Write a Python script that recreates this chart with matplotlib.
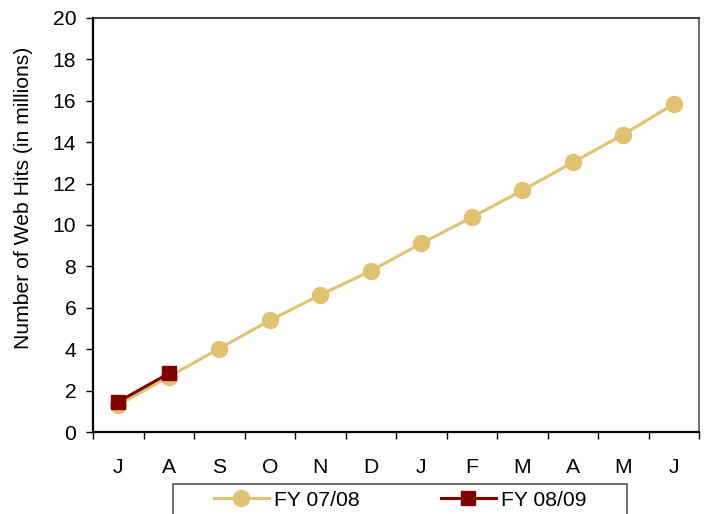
import matplotlib
matplotlib.use("Agg")
import matplotlib.pyplot as plt
from matplotlib.patches import Rectangle
from matplotlib.ticker import FixedLocator, MultipleLocator

plt.rcParams['font.family'] = ['Liberation Sans', 'DejaVu Sans']

months = ["J", "A", "S", "O", "N", "D", "J", "F", "M", "A", "M", "J"]
fy0708 = [1.31, 2.67, 4.03, 5.39, 6.62, 7.78, 9.11, 10.37, 11.67, 13.02, 14.37, 15.84]
fy0809 = [1.46, 2.83]

gold = "#E0C270"
darkred = "#800000"
fs = 15.2

fig = plt.figure(figsize=(7.07, 5.14), dpi=100)
ax = fig.add_axes([93 / 707, 82 / 514, 606 / 707, 414 / 514])

x = list(range(len(months)))
ax.plot(x, fy0708, color=gold, lw=2.2, marker="o", ms=11.5, mec=gold, label="FY 07/08")
ax.plot(x[:len(fy0809)], fy0809, color=darkred, lw=2.2, marker="s", ms=10.5, mec=darkred, label="FY 08/09")

ax.set_xlim(-0.5, len(months) - 0.5)
ax.set_ylim(0, 20)
ax.yaxis.set_major_locator(MultipleLocator(2))

# boundaries get the tick marks, centres get the labels
ax.xaxis.set_major_locator(FixedLocator([i - 0.5 for i in range(len(months) + 1)]))
ax.xaxis.set_major_formatter(plt.NullFormatter())
ax.xaxis.set_minor_locator(FixedLocator(x))
ax.set_xticklabels(months, minor=True)
ax.tick_params(axis="x", which="major", length=5, width=1, direction="out")
ax.tick_params(axis="x", which="minor", length=0, pad=19, labelsize=fs)
ax.tick_params(axis="y", length=5, width=1, direction="out", pad=7, labelsize=fs)

for s in ["left", "bottom"]:
    ax.spines[s].set_linewidth(1.6)
    ax.spines[s].set_color("black")
ax.spines["top"].set_color("#222222")
ax.spines["top"].set_linewidth(1.2)
ax.spines["right"].set_color("#555555")
ax.spines["right"].set_linewidth(1.2)

ax.set_ylabel("Number of Web Hits (in millions)", fontsize=fs)
ax.yaxis.set_label_coords(-0.099, 0.565)

# legend box runs off the bottom of the image
fig.patches.append(Rectangle((173 / 707, -0.05), 454 / 707, 30 / 514 + 0.05,
                             transform=fig.transFigure, fill=False,
                             edgecolor="#555555", lw=1.2))
fig.legend(loc="center", bbox_to_anchor=(400 / 707, 14 / 514), ncol=2, frameon=False,
           fontsize=fs, handlelength=2.6, handletextpad=0.25, columnspacing=3.85,
           borderpad=0, borderaxespad=0)

fig.savefig("out.png", dpi=100)
